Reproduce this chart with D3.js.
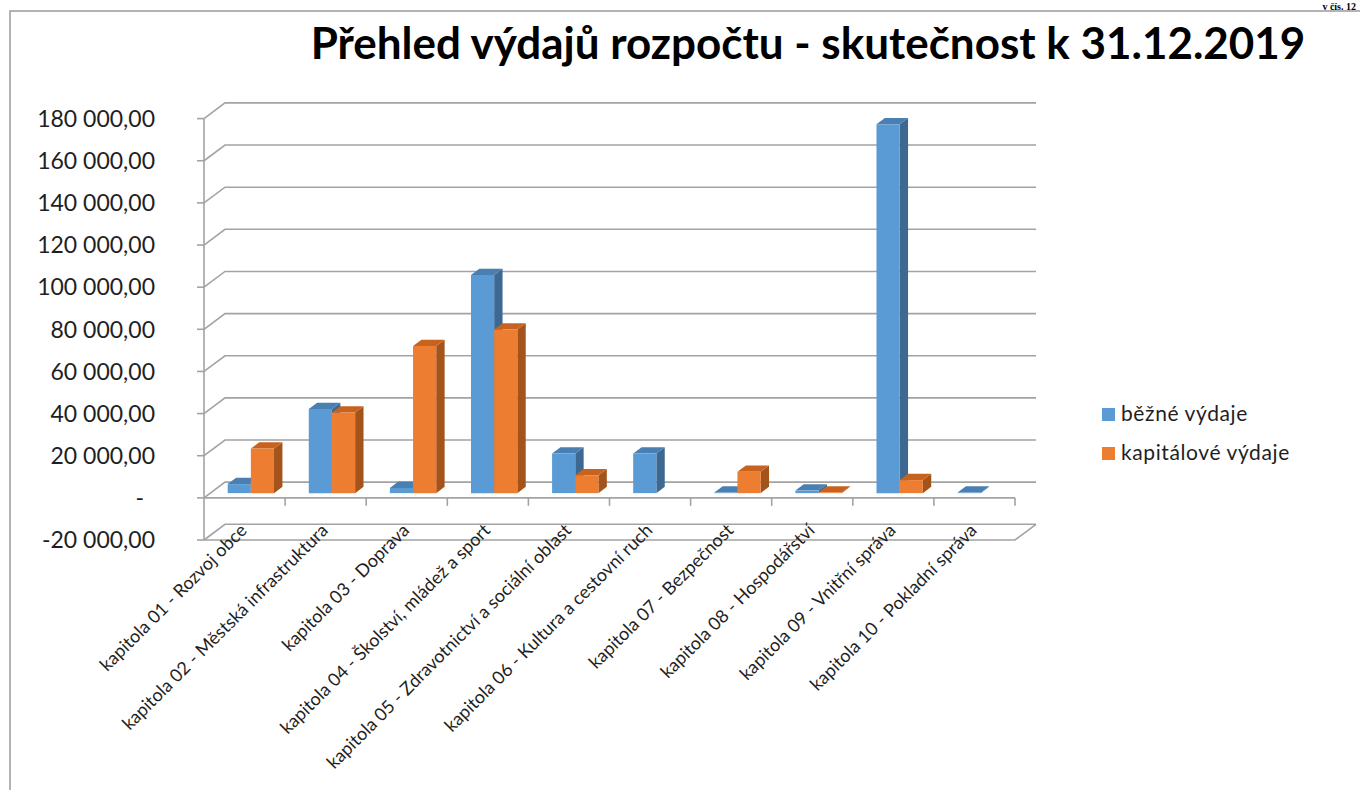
<!DOCTYPE html>
<html><head><meta charset="utf-8">
<script src="https://cdn.jsdelivr.net/npm/d3@7"></script>
<style>html,body{margin:0;padding:0;background:#fff;}svg{display:block;}</style>
</head><body>
<svg id="c" width="1360" height="790"></svg>
<script>
const categories = ["kapitola 01 - Rozvoj obce","kapitola 02 - Městská infrastruktura","kapitola 03 - Doprava","kapitola 04 - Školství, mládež a sport","kapitola 05 - Zdravotnictví a sociální oblast","kapitola 06 - Kultura a cestovní ruch","kapitola 07 - Bezpečnost","kapitola 08 - Hospodářství","kapitola 09 - Vnitřní správa","kapitola 10 - Pokladní správa"];
const seriesNames = ["běžné výdaje","kapitálové výdaje"];
const bezneVydaje = [4300, 39900, 2500, 103500, 18800, 18800, 300, 1200, 175100, 300];
const kapitaloveVydaje = [21200, 38300, 69800, 77700, 8500, 0, 10100, 300, 6200, 0];
const yTicks = [-20000, 0, 20000, 40000, 60000, 80000, 100000, 120000, 140000, 160000, 180000];
const titleText = "Přehled výdajů rozpočtu - skutečnost k 31.12.2019";

const svg = d3.select("#c");
const FONT = "Lato, 'Open Sans', sans-serif";
const FX0 = 204, FX1 = 1015, DX = 21, DY = 15.7;
const y = d3.scaleLinear().domain([-20000, 180000]).range([540, 118.6]);
const x0 = d3.scaleBand().domain(categories).range([FX0, FX1]).padding(0);
const bw = x0.bandwidth() / 3.5;
const x1 = d3.scaleBand().domain(seriesNames).range([0, 2 * bw]).padding(0);
const colors = {
  "běžné výdaje": {front: "#5b9bd5", top: "#4a7fb2", side: "#3c6891"},
  "kapitálové výdaje": {front: "#ed7d31", top: "#c8631f", side: "#a4531b"}
};
const D0 = 0.3, D1 = 0.7;

// chart border
svg.append("path").attr("d", "M10,790 L10,11 L1360,11").attr("fill", "none").attr("stroke", "#9a9a9a").attr("stroke-width", 1.5);
// top-right page note
svg.append("text").attr("x", 1356).attr("y", 9.5).attr("text-anchor", "end")
  .style("font-family", "'Liberation Serif', serif").style("font-weight", "bold").style("font-size", "10px")
  .attr("fill", "#000").text("v čís. 12");

// title
const title = svg.append("text").attr("x", 808).attr("y", 59).attr("text-anchor", "middle")
  .style("font-family", FONT).style("font-weight", "bold").style("font-size", "40px")
  .attr("fill", "#000").text(titleText);
const tl = title.node().getComputedTextLength();
title.style("font-size", (40 * 995 / tl) + "px");

// gridlines
const grid = svg.append("g").attr("fill", "none").attr("stroke", "#a3a3a3").attr("stroke-width", 1.6);
yTicks.forEach(t => {
  const yf = y(t);
  grid.append("path").attr("d", `M${FX0},${yf} L${FX0 + DX},${yf - DY} L${FX1 + DX},${yf - DY}`);
  if (t === 0) grid.append("path").attr("d", `M${FX0},${yf} L${FX1},${yf}`);
  if (t === -20000) grid.append("path").attr("d", `M${FX0},${yf} L${FX1},${yf} L${FX1 + DX},${yf - DY}`);
  grid.append("path").attr("d", `M${FX0 - 7},${yf} L${FX0},${yf}`);
});
grid.append("path").attr("d", `M${FX0},${y(180000)} L${FX0},${y(-20000)}`);
// category ticks
categories.forEach(c => {
  const xx = x0(c) + x0.bandwidth();
  grid.append("path").attr("d", `M${xx},${y(0)} L${xx},${y(0) + 8}`);
});

// y labels
const fmt = v => {
  if (v === 0) return "-";
  const s = d3.format(",.2f")(Math.abs(v)).replace(/,/g, " ").replace(".", ",");
  return (v < 0 ? "-" : "") + s;
};
svg.append("g").selectAll("text").data(yTicks).join("text")
  .attr("x", d => d === 0 ? 144 : 155).attr("y", d => y(d)).attr("dy", "0.36em")
  .attr("text-anchor", "end").style("font-family", FONT).style("font-size", "23px").attr("fill", "#1f1f1f")
  .text(fmt);

// bars
const P = (x, yy, f) => [x + f * DX, yy - f * DY];
const bars = svg.append("g");
categories.forEach((c, i) => {
  const base = x0(c) + (x0.bandwidth() - 2 * bw) / 2;
  const vals = [bezneVydaje[i], kapitaloveVydaje[i]];
  seriesNames.forEach((s, j) => {
    const v = vals[j];
    if (!(v > 0)) return;
    const a = base + x1(s), b = a + x1.bandwidth();
    const yt = y(v), yb = y(0);
    const col = colors[s];
    const poly = pts => "M" + pts.map(p => p.join(",")).join("L") + "Z";
    bars.append("path").attr("d", poly([P(b, yt, D0), P(b, yt, D1), P(b, yb, D1), P(b, yb, D0)])).attr("fill", col.side);
    bars.append("path").attr("d", poly([P(a, yt, D0), P(b, yt, D0), P(b, yt, D1), P(a, yt, D1)])).attr("fill", col.top);
    bars.append("path").attr("d", poly([P(a, yt, D0), P(b, yt, D0), P(b, yb, D0), P(a, yb, D0)])).attr("fill", col.front);
  });
});

// category labels
svg.append("g").selectAll("text").data(categories).join("text")
  .attr("transform", d => `translate(${x0(d) + x0.bandwidth() / 2 - 1},${527}) rotate(-45)`)
  .attr("text-anchor", "end").attr("dy", "0.35em")
  .style("font-family", FONT).style("font-size", "18px").attr("fill", "#1f1f1f")
  .text(d => d);

// legend
const lg = svg.append("g");
seriesNames.forEach((s, j) => {
  const yy = 408 + j * 39;
  lg.append("rect").attr("x", 1102).attr("y", yy).attr("width", 13).attr("height", 13).attr("fill", colors[s].front);
  lg.append("text").attr("x", 1121).attr("y", yy + 13).style("font-family", FONT).style("font-size", "21px")
    .style("letter-spacing", "0.6px").attr("fill", "#1f1f1f").text(s);
});
</script>
</body></html>
